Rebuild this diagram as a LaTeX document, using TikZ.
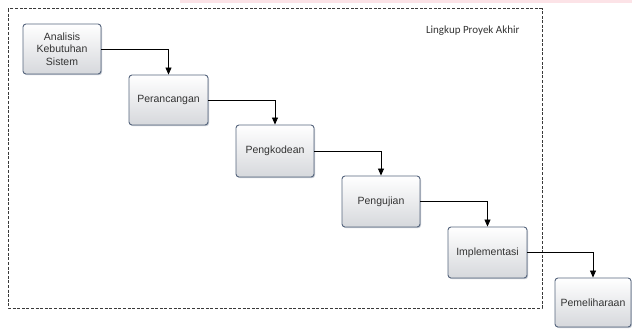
\documentclass[tikz,border=0pt]{standalone}
\usepackage{fontspec}
\setmainfont{Liberation Sans}
\newfontfamily\labelfont{Carlito}
\usetikzlibrary{arrows.meta,shadows}
\definecolor{boxborder}{HTML}{56657D}
\definecolor{boxbottom}{HTML}{D6D8DC}
\definecolor{framegray}{HTML}{3A3A3A}
\definecolor{pinkstrip}{HTML}{FCE3E7}
\begin{document}
\begin{tikzpicture}[x=1pt,y=-1pt,
  stage/.style={draw=boxborder, line width=0.9pt, rounded corners=3pt,
    top color=white, bottom color=boxbottom,
    minimum width=78pt, minimum height=50pt, inner sep=1pt,
    align=center, font=\fontsize{10.5}{12.5}\selectfont, text=black!80,
    drop shadow={shadow xshift=1pt, shadow yshift=-1.2pt, fill=boxborder, opacity=0.35}},
  flow/.style={draw=black, line width=0.8pt, -{Triangle[length=7pt,width=6pt]}},
  scopeframe/.style={draw=framegray, line width=1pt, dash pattern=on 3pt off 1.6pt}
]
\useasboundingbox (0,0) rectangle (632,329);
\fill[pinkstrip] (180,0) rectangle (632,3);
\draw[scopeframe] (8,9) rectangle (542,308);
\node[font=\labelfont\fontsize{11}{13}\selectfont, text=black!80, anchor=east] (lbl) at (523,31) {Lingkup Proyek Akhir};
\node[stage] (b1) at (62,49) {Analisis\\Kebutuhan\\Sistem};
\node[stage, minimum width=79pt] (b2) at (168.5,100) {Perancangan};
\node[stage, minimum height=52pt] (b3) at (275,151) {Pengkodean};
\node[stage, minimum height=51pt] (b4) at (381,201.5) {Pengujian};
\node[stage, minimum width=79pt, minimum height=51pt] (b5) at (487.5,252.5) {Implementasi};
\node[stage, minimum width=76pt, minimum height=49pt] (b6) at (593,302.5) {Pemeliharaan};
\draw[flow] (b1.east) -| (b2.north);
\draw[flow] (b2.east) -| (b3.north);
\draw[flow] (b3.east) -| (b4.north);
\draw[flow] (b4.east) -| (b5.north);
\draw[flow] (b5.east) -| (b6.north);
\end{tikzpicture}
\end{document}
